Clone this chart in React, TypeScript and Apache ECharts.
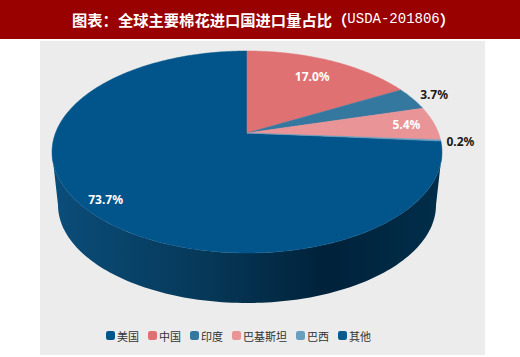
import React, { useEffect, useRef } from "react";
import * as echarts from "echarts";

const categories = ["美国", "中国", "印度", "巴基斯坦", "巴西", "其他"];
const shares = [73.7, 17.0, 3.7, 5.4, 0.2, 0];
const sliceColors = ["#02558a", "#e07172", "#35789f", "#e99597", "#6a9ebf", "#0a5a8e"];
const labelColors = ["#ffffff", "#ffffff", "#1a1a1a", "#ffffff", "#1a1a1a", "#1a1a1a"];
const labelRadii = [0.89, 0.75, 1.14, 0.85, 1.1, 1];

const APEX = { x: 247, y: 133 };
const PERSPECTIVE = -0.188;
const SCALE_Y = 97.4;
const SCALE_X = 191.5;
const FONT_CJK = '"Noto Sans CJK SC", sans-serif';

function project(deg: number, r = 1) {
  const a = (deg * Math.PI) / 180;
  const u = r * Math.sin(a);
  const v = -r * Math.cos(a);
  const d = 1 + PERSPECTIVE * v;
  return [APEX.x + (SCALE_X * u) / d, APEX.y + (SCALE_Y * v) / d];
}

function ellipseArc(cx: number, cy: number, rx: number, ry: number, from: number, to: number) {
  const pts: number[][] = [];
  const n = 120;
  for (let i = 0; i <= n; i++) {
    const t = ((from + ((to - from) * i) / n) * Math.PI) / 180;
    pts.push([cx + rx * Math.cos(t), cy + ry * Math.sin(t)]);
  }
  return pts;
}

function sliceAngles(index: number) {
  const total = shares.reduce((s, v) => s + v, 0);
  let start = (-shares[0] / total) * 360;
  for (let i = 0; i < index; i++) start += (shares[i] / total) * 360;
  return [start, start + (shares[index] / total) * 360];
}

function makeRenderItem(index: number) {
  return () => {
    const children: any[] = [];
    const value = shares[index];
    if (index === 0) {
      const top = ellipseArc(247, 152, 195, 101, 0, 180);
      const bottom = ellipseArc(247, 205, 189, 98, 180, 0);
      children.push({
        type: "polygon",
        shape: { points: [...top, ...bottom] },
        style: {
          fill: new echarts.graphic.LinearGradient(0, 0, 1, 0, [
            { offset: 0, color: "#0b4d7a" },
            { offset: 0.4, color: "#063858" },
            { offset: 0.7, color: "#00223a" },
            { offset: 1, color: "#012e4a" },
          ]),
        },
      });
    }
    if (value > 0) {
      const [a0, a1] = sliceAngles(index);
      const pts: number[][] = [[APEX.x, APEX.y]];
      const steps = Math.max(2, Math.ceil(a1 - a0));
      for (let i = 0; i <= steps; i++) pts.push(project(a0 + ((a1 - a0) * i) / steps));
      children.push({
        type: "polygon",
        shape: { points: pts },
        style: { fill: sliceColors[index], stroke: sliceColors[index], lineWidth: 0.5 },
      });
      const [lx, ly] = project((a0 + a1) / 2, labelRadii[index]);
      children.push({
        type: "text",
        z2: 20,
        x: lx,
        y: ly,
        style: {
          text: value.toFixed(1) + "%",
          fill: labelColors[index],
          font: 'bold 12px "Noto Sans", sans-serif',
          align: "center",
          verticalAlign: "middle",
        },
      });
    }
    return { type: "group", children };
  };
}

export default function App() {
  const ref = useRef<HTMLDivElement>(null);
  useEffect(() => {
    const chart = echarts.init(ref.current!, null, { renderer: "svg" });
    chart.setOption({
      animation: false,
      backgroundColor: "#ffffff",
      graphic: [
        { type: "rect", z: 0, shape: { x: 0, y: 0, width: 520, height: 39 }, style: { fill: "#990000" } },
        { type: "rect", z: 0, shape: { x: 40, y: 41, width: 445, height: 314 }, style: { fill: "#ececec" } },
      ],
      title: {
        text: "{a|图表\uFF1A全球主要棉花进口国进口量占比}{b|\uFF08}{c|USDA-201806}{b|\uFF09}",
        left: 72,
        top: 9,
        padding: 0,
        textStyle: {
          rich: {
            a: { fontFamily: FONT_CJK, fontWeight: "bold", fontSize: 15.3, color: "#ffffff", lineHeight: 20 },
            b: { fontFamily: FONT_CJK, fontWeight: "bold", fontSize: 15.3, color: "#ffffff", lineHeight: 20 },
            c: { fontFamily: '"Liberation Mono", monospace', fontWeight: "normal", fontSize: 14, color: "#ffffff", lineHeight: 20 },
          },
        },
      },
      legend: {
        left: 106,
        top: 330,
        padding: 0,
        icon: "roundRect",
        itemWidth: 9,
        itemHeight: 9,
        itemGap: 9,
        data: categories,
        selectedMode: false,
        textStyle: { fontFamily: FONT_CJK, fontSize: 11, color: "#333333", padding: [2, 0, 0, -3] },
      },
      series: categories.map((name, i) => ({
        type: "custom",
        name,
        coordinateSystem: "none",
        silent: true,
        itemStyle: { color: sliceColors[i] },
        renderItem: makeRenderItem(i),
        data: [[shares[i]]],
      })),
    });
    return () => chart.dispose();
  }, []);
  return <div ref={ref} style={{ position: "fixed", left: 0, top: 0, width: 520, height: 357 }} />;
}
